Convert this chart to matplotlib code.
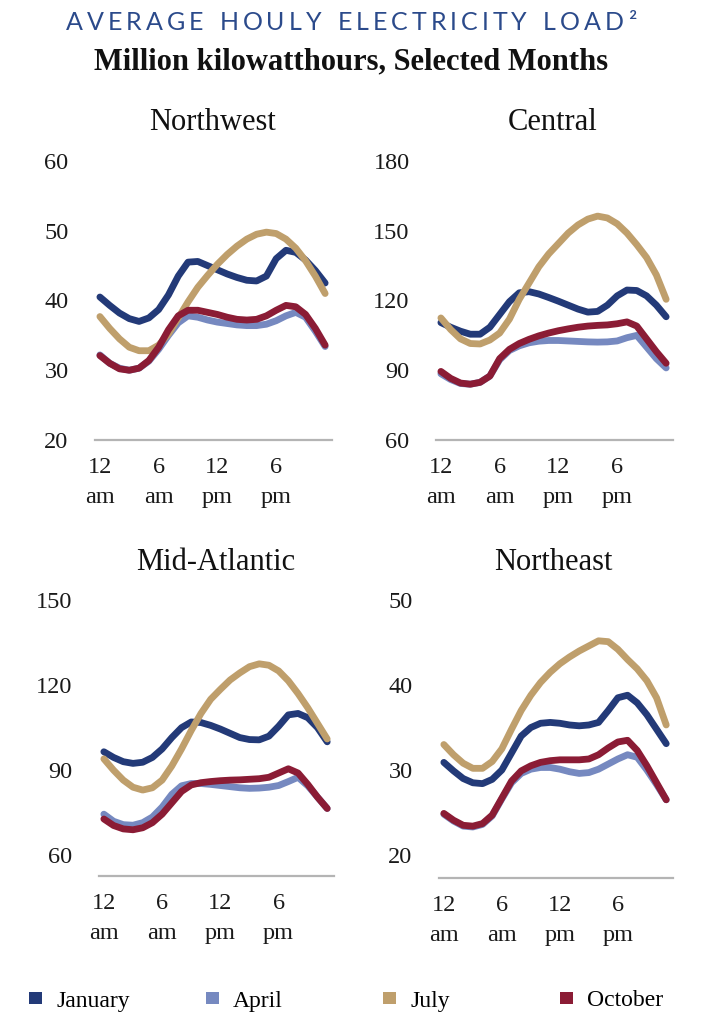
import matplotlib.pyplot as plt
from matplotlib.patches import Patch

# hourly average load, hour 0 = 12 am
hours = list(range(24))
tick_hours = [0, 6, 12, 18]
tick_labels = ["12\nam", "6\nam", "12\npm", "6\npm"]
months = ["January", "April", "July", "October"]
colors = ["#233a78", "#7689c0", "#bf9f6c", "#8b1c35"]

nw_jan = [40.5, 39.3, 38.2, 37.4, 37.0, 37.5, 38.7, 40.8, 43.5, 45.5, 45.6, 45.0,
          44.4, 43.8, 43.3, 42.9, 42.8, 43.5, 46.0, 47.2, 46.9, 45.8, 44.3, 42.5]
nw_apr = [32.2, 31.0, 30.3, 30.0, 30.3, 31.3, 33.0, 35.0, 36.8, 37.8, 37.6, 37.2,
          36.9, 36.7, 36.5, 36.4, 36.4, 36.6, 37.1, 37.8, 38.3, 37.6, 35.6, 33.4]
nw_jul = [37.7, 36.0, 34.5, 33.3, 32.8, 32.8, 33.6, 35.2, 37.5, 39.8, 41.9, 43.6,
          45.2, 46.6, 47.8, 48.8, 49.5, 49.8, 49.6, 48.8, 47.5, 45.7, 43.5, 41.0]
nw_oct = [32.1, 31.0, 30.2, 30.0, 30.3, 31.4, 33.3, 35.8, 37.8, 38.6, 38.6, 38.3,
          38.0, 37.6, 37.3, 37.2, 37.3, 37.8, 38.6, 39.3, 39.1, 38.0, 36.0, 33.6]

ce_jan = [110.5, 108.5, 106.8, 105.5, 105.5, 108.5, 114.0, 119.5, 123.3, 123.8, 122.8, 121.3,
          119.7, 118.0, 116.3, 115.0, 115.3, 118.0, 122.0, 124.5, 124.3, 122.0, 118.0, 113.0]
ce_apr = [88.5, 86.0, 84.3, 84.0, 84.8, 87.5, 94.5, 98.5, 100.5, 101.8, 102.5, 102.8,
          102.8, 102.6, 102.4, 102.2, 102.1, 102.2, 102.6, 104.0, 105.0, 100.0, 95.0, 91.0]
ce_jul = [112.5, 107.5, 103.5, 101.5, 101.3, 103.0, 106.0, 112.0, 120.5, 127.5, 134.5, 140.0,
          144.5, 149.0, 152.5, 155.0, 156.3, 155.5, 153.0, 149.0, 144.0, 138.5, 131.0, 120.5]
ce_oct = [89.5, 86.5, 84.5, 84.0, 84.8, 87.5, 95.0, 99.0, 101.5, 103.3, 104.8, 106.0,
          107.0, 107.8, 108.5, 109.0, 109.3, 109.5, 110.0, 110.8, 109.0, 103.5, 98.0, 93.0]

ma_jan = [96.5, 94.5, 93.0, 92.4, 92.8, 94.5, 97.5, 101.5, 105.0, 107.0, 106.8, 105.8,
          104.5, 103.0, 101.5, 100.8, 100.7, 102.0, 105.5, 109.5, 110.0, 108.5, 105.0, 100.0]
ma_apr = [74.5, 72.0, 70.8, 70.6, 71.5, 73.5, 77.0, 81.5, 84.5, 85.3, 85.3, 85.0,
          84.6, 84.2, 83.8, 83.6, 83.7, 84.0, 84.6, 86.0, 87.5, 84.5, 80.5, 76.5]
ma_jul = [94.0, 90.0, 86.5, 84.0, 83.0, 83.8, 86.5, 91.5, 97.5, 104.0, 110.0, 115.0,
          118.5, 121.8, 124.3, 126.5, 127.5, 127.0, 125.0, 121.5, 117.0, 112.0, 106.5, 101.0]
ma_oct = [72.8, 70.5, 69.3, 69.0, 69.7, 71.5, 74.5, 78.5, 82.5, 84.8, 85.6, 86.0,
          86.3, 86.5, 86.6, 86.8, 87.0, 87.5, 89.0, 90.5, 89.0, 85.0, 80.5, 76.5]

ne_jan = [30.9, 29.9, 29.0, 28.5, 28.4, 28.9, 30.0, 32.0, 34.0, 35.0, 35.5, 35.6,
          35.5, 35.3, 35.2, 35.3, 35.6, 37.0, 38.5, 38.8, 37.9, 36.5, 34.8, 33.1]
ne_apr = [24.8, 24.0, 23.4, 23.3, 23.6, 24.6, 26.6, 28.5, 29.6, 30.1, 30.3, 30.3,
          30.1, 29.8, 29.6, 29.7, 30.1, 30.7, 31.3, 31.8, 31.5, 30.0, 28.3, 26.5]
ne_jul = [33.0, 31.8, 30.8, 30.2, 30.2, 31.0, 32.5, 34.8, 37.0, 38.8, 40.3, 41.5,
          42.5, 43.3, 44.0, 44.6, 45.2, 45.1, 44.2, 43.0, 41.9, 40.5, 38.5, 35.3]
ne_oct = [24.9, 24.1, 23.5, 23.4, 23.7, 24.7, 26.7, 28.7, 29.9, 30.5, 30.9, 31.1,
          31.2, 31.2, 31.2, 31.3, 31.8, 32.6, 33.3, 33.5, 32.3, 30.5, 28.5, 26.5]

W, H = 702, 1024
serif = "Liberation Serif"
fig = plt.figure(figsize=(W / 100, H / 100), dpi=100)


def px_box(left, right, top, bottom):
    return [left / W, 1 - bottom / H, (right - left) / W, (bottom - top) / H]


panels = [
    ("Northwest", (95, 332, 161, 440), (20, 60), [20, 30, 40, 50, 60],
     [nw_jan, nw_apr, nw_jul, nw_oct], (213, 123)),
    ("Central", (436, 673, 161, 440), (60, 180), [60, 90, 120, 150, 180],
     [ce_jan, ce_apr, ce_jul, ce_oct], (553, 123)),
    ("Mid-Atlantic", (99, 334, 600, 876), (52.7, 150), [60, 90, 120, 150],
     [ma_jan, ma_apr, ma_jul, ma_oct], (216, 562)),
    ("Northeast", (439, 673, 600, 878), (17.3, 50), [20, 30, 40, 50],
     [ne_jan, ne_apr, ne_jul, ne_oct], (553, 562)),
]

for name, box, ylim, yticks, series, tpos in panels:
    ax = fig.add_axes(px_box(*box))
    for vals, c in zip(series, colors):
        ax.plot(hours, vals, color=c, lw=4.9, solid_capstyle="round",
                solid_joinstyle="round", clip_on=False)
    ax.set_xlim(-0.5, 23.7)
    ax.set_ylim(*ylim)
    ax.set_yticks(yticks)
    ax.set_xticks(tick_hours)
    ax.set_xticklabels(tick_labels, linespacing=1.55)
    for s in ["top", "right", "left"]:
        ax.spines[s].set_visible(False)
    ax.spines["bottom"].set_color("#b4b4b4")
    ax.spines["bottom"].set_linewidth(1.6)
    ax.tick_params(axis="y", length=0, pad=19, labelsize=17.5)
    ax.tick_params(axis="x", length=0, pad=12.5, labelsize=17.5)
    for lab in ax.get_xticklabels() + ax.get_yticklabels():
        lab.set_fontfamily(serif)
        lab.set_color("#1a1a1a")
    fig.text(tpos[0] / W, 1 - tpos[1] / H, name, ha="center", va="center",
             fontsize=22, fontfamily=serif, color="#111111")

# subtitle
fig.text(0.5, 1 - 62 / H, "Million kilowatthours, Selected Months", ha="center",
         va="center", fontsize=22, fontweight="bold", fontfamily=serif, color="#111111")

# title with letter spacing
title = "AVERAGE HOULY ELECTRICITY LOAD²"
tkw = dict(fontsize=18, fontfamily="Lato", color="#2b4a8b")
renderer = fig.canvas.get_renderer()
widths = []
for ch in title:
    t = fig.text(0, 0, "n" if ch == " " else ch, **tkw)
    w = t.get_window_extent(renderer).width
    widths.append(w * 0.6 if ch == " " else w)
    t.remove()
track = 4.0
total = sum(widths) + track * (len(title) - 1)
x = W / 2 - total / 2
for ch, w in zip(title, widths):
    if ch != " ":
        fig.text(x / W, 1 - 30 / H, ch, ha="left", va="baseline", **tkw)
    x += w + track

# legend, one entry per equal-width column
for i, (m, c) in enumerate(zip(months, colors)):
    fig.legend(handles=[Patch(facecolor=c, edgecolor="none", label=m)],
               loc="center left", bbox_to_anchor=((29 + 177 * i) / W, 1 - 1001 / H),
               frameon=False, borderpad=0, borderaxespad=0, handlelength=0.55,
               handleheight=0.38, handletextpad=0.6,
               prop={"family": serif, "size": 17})

fig.savefig("out.png", dpi=100)
